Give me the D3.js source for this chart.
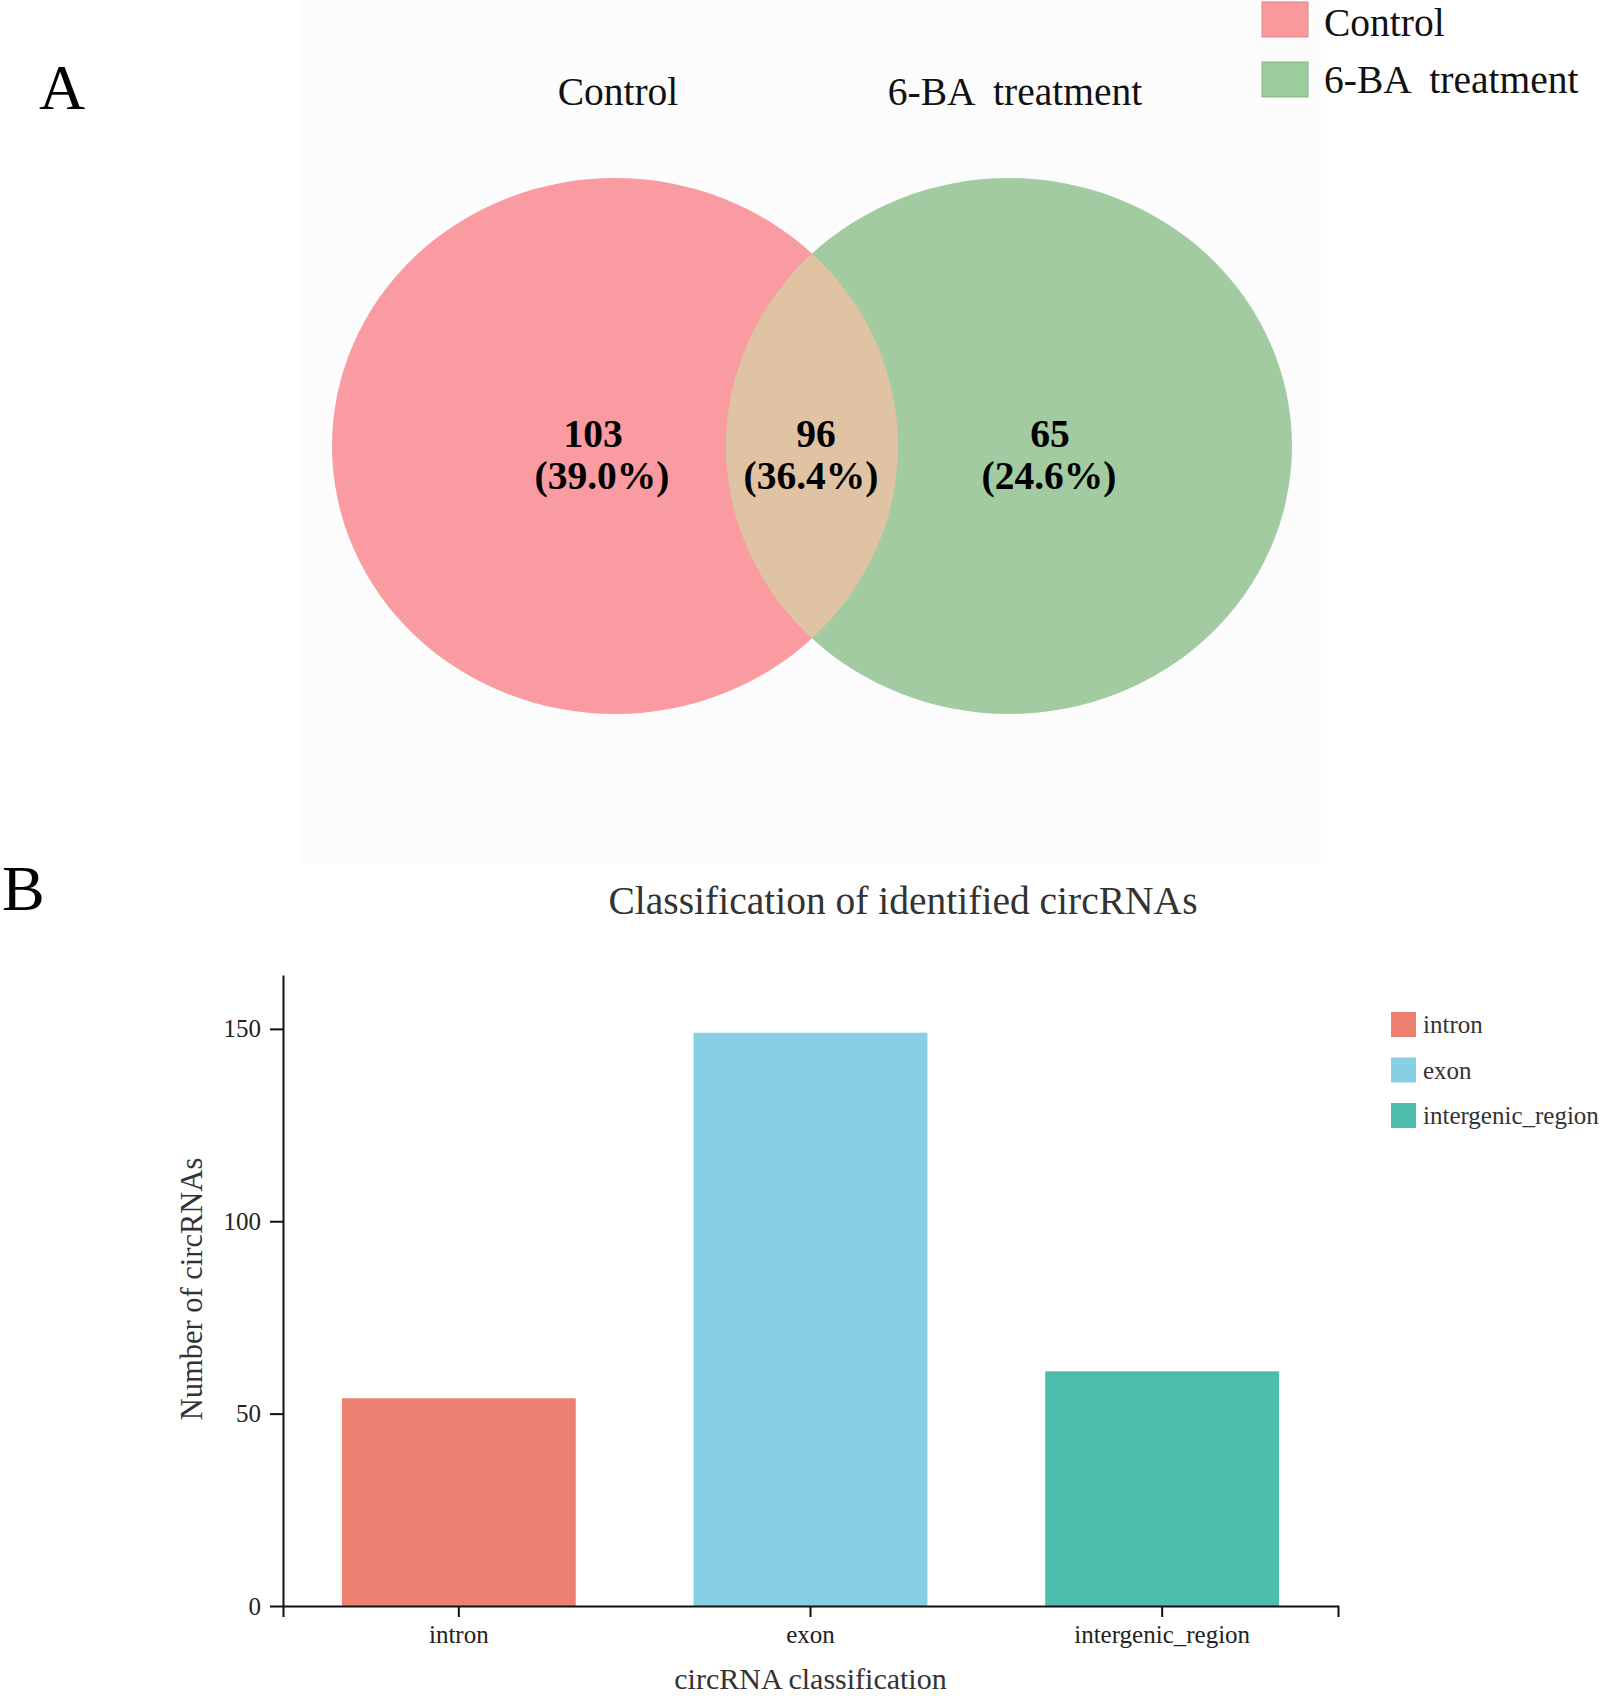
<!DOCTYPE html>
<html>
<head>
<meta charset="utf-8">
<title>circRNA Venn and classification</title>
<script src="https://cdn.jsdelivr.net/npm/d3@7"></script>
<style>
body { margin:0; background:#fff; }
svg text { font-family:"Liberation Serif","Times New Roman",Times,serif; }
</style>
</head>
<body>
<script>
// panel A data
var vennSets = ["Control", "6-BA  treatment"];
var vennCounts = [103, 96, 65];          // Control only, shared, 6-BA only
var vennPercents = ["39.0%", "36.4%", "24.6%"];
var vennColors = ["#f99ba1", "#a2cba2"];
var overlapColor = "#dfc3a2";
var legendColorsA = ["#fa9a9d", "#9bcd9c"];

// panel B data
var categories = ["intron", "exon", "intergenic_region"];
var counts = [54, 149, 61];
var yTicks = [0, 50, 100, 150];
var barColors = ["#ee8072", "#87d0e4", "#4ebdab"];

var width = 1600, height = 1696;
var serif = '"Liberation Serif","Times New Roman",Times,serif';
var svg = d3.select('body').append('svg').attr('width', width).attr('height', height)
  .style('font-family', serif);

// ---------- A: Venn ----------
svg.append('rect').attr('x',300).attr('y',0).attr('width',1021).attr('height',863).attr('fill','#fcfcfc');

svg.append('text').attr('x',39).attr('y',109).attr('font-size',64).text('A');

var cx = d3.scalePoint().domain(vennSets).range([615, 1009]);
var cy = 446, rx = 283, ry = 268;

svg.append('clipPath').attr('id','leftClip')
  .append('ellipse').attr('cx',cx(vennSets[0])).attr('cy',cy).attr('rx',rx).attr('ry',ry);

svg.selectAll('ellipse.set').data(vennSets).enter().append('ellipse')
  .attr('class','set')
  .attr('cx', function(d){ return cx(d); }).attr('cy', cy)
  .attr('rx', rx).attr('ry', ry)
  .attr('fill', function(d,i){ return vennColors[i]; });

svg.append('ellipse').attr('clip-path','url(#leftClip)')
  .attr('cx',cx(vennSets[1])).attr('cy',cy).attr('rx',rx).attr('ry',ry)
  .attr('fill',overlapColor);

// set names above the circles
svg.selectAll('text.setname').data(vennSets).enter().append('text')
  .attr('class','setname')
  .attr('x', function(d,i){ return cx(d) + (i==0 ? 3 : 6); })
  .attr('y', 105).attr('font-size',39.5).attr('text-anchor','middle')
  .style('white-space','pre').attr('fill','#111')
  .text(function(d){ return d; });

// region labels
var regionX = [cx(vennSets[0]) - 18, (cx(vennSets[0]) + cx(vennSets[1]))/2 - 1, cx(vennSets[1]) + 40];
var regions = svg.selectAll('g.region').data(vennCounts).enter().append('g').attr('class','region');
regions.append('text')
  .attr('x', function(d,i){ return regionX[i] + (i==0 ? -4 : (i==1 ? 5 : 1)); })
  .attr('y', 447).attr('font-size',39.5).attr('font-weight','bold').attr('text-anchor','middle')
  .text(function(d){ return d; });
regions.append('text')
  .attr('x', function(d,i){ return regionX[i] + (i==0 ? 5 : 0); })
  .attr('y', 489).attr('font-size',39.5).attr('font-weight','bold').attr('text-anchor','middle')
  .text(function(d,i){ return '(' + vennPercents[i] + ')'; });

// legend A
var legA = svg.selectAll('g.legA').data(vennSets).enter().append('g').attr('class','legA')
  .attr('transform', function(d,i){ return 'translate(1262,' + (2 + i*60) + ')'; });
legA.append('rect').attr('width',46).attr('height',35)
  .attr('fill', function(d,i){ return legendColorsA[i]; })
  .attr('stroke', function(d,i){ return d3.color(legendColorsA[i]).darker(0.4); }).attr('stroke-width',1);
legA.append('text').attr('x',62).attr('y', function(d,i){ return i==0 ? 34 : 31; })
  .attr('font-size',39.5).style('white-space','pre').attr('fill','#111')
  .text(function(d){ return d; });

// ---------- B: bar chart ----------
svg.append('text').attr('x',2).attr('y',910).attr('font-size',64).text('B');
svg.append('text').attr('x',903).attr('y',914).attr('font-size',39.5).attr('text-anchor','middle').attr('fill','#333')
  .text('Classification of identified circRNAs');

var x = d3.scaleBand().domain(categories).range([283, 1338]).paddingInner(0.335).paddingOuter(0.1675);
var y = d3.scaleLinear().domain([0, 164]).range([1606, 975]);

svg.selectAll('rect.bar').data(counts).enter().append('rect')
  .attr('class','bar')
  .attr('x', function(d,i){ return x(categories[i]); })
  .attr('y', function(d){ return y(d); })
  .attr('width', x.bandwidth())
  .attr('height', function(d){ return y(0) - y(d); })
  .attr('fill', function(d,i){ return barColors[i]; });

var xAxis = svg.append('g').attr('transform','translate(0,' + y(0) + ')')
  .call(d3.axisBottom(x).tickSizeInner(11).tickSizeOuter(11).tickPadding(8));
var yAxis = svg.append('g').attr('transform','translate(283,0)')
  .call(d3.axisLeft(y).tickValues(yTicks).tickSizeInner(13).tickSizeOuter(0).tickPadding(9));

[xAxis, yAxis].forEach(function(g){
  g.attr('font-family', serif);
  g.selectAll('path,line').attr('stroke','#111').attr('stroke-width',2);
  g.selectAll('text').attr('font-size',25).attr('fill','#222');
});

svg.append('text').attr('x',(283+1338)/2).attr('y',1689).attr('font-size',30).attr('text-anchor','middle').attr('fill','#333')
  .text('circRNA classification');
svg.append('text').attr('transform','translate(202,1289) rotate(-90)').attr('font-size',30.5)
  .attr('text-anchor','middle').attr('fill','#333').text('Number of circRNAs');

// legend B
var legB = svg.selectAll('g.legB').data(categories).enter().append('g').attr('class','legB')
  .attr('transform', function(d,i){ return 'translate(1391,' + (1012 + i*45.5) + ')'; });
legB.append('rect').attr('width',25).attr('height',25)
  .attr('fill', function(d,i){ return barColors[i]; });
legB.append('text').attr('x',32).attr('y',21).attr('font-size',25).attr('fill','#333')
  .text(function(d){ return d; });
</script>
</body>
</html>
